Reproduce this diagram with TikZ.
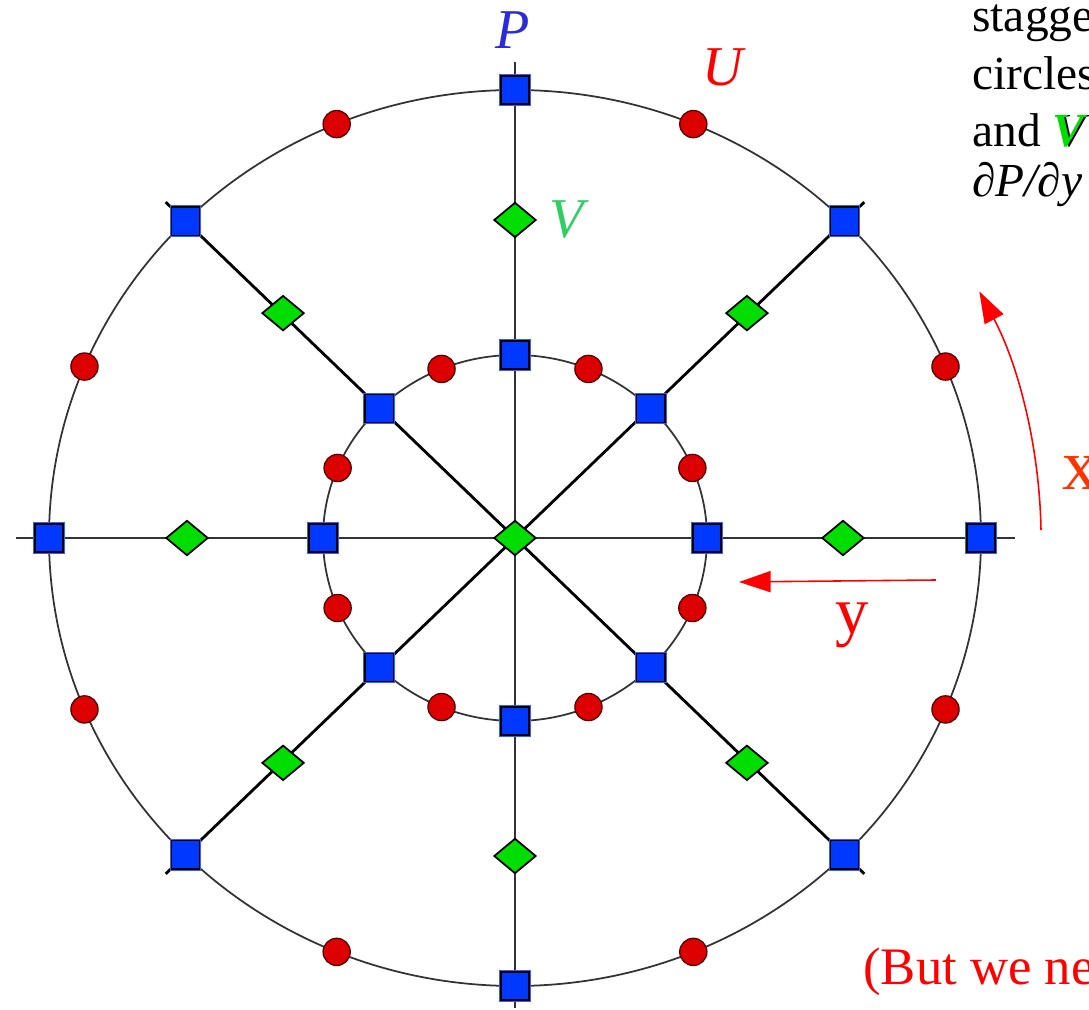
\documentclass[tikz,border=0pt]{standalone}
\usepackage{fontspec}
\setmainfont{Liberation Serif}
\usepackage{tikz}
\usetikzlibrary{positioning,arrows.meta,shapes.geometric}
\usepackage{xcolor}
\definecolor{pblue}{HTML}{0038FF}
\definecolor{ured}{HTML}{DD0000}
\definecolor{vgreen}{HTML}{00DD00}
\definecolor{labblue}{HTML}{2B2BD9}
\definecolor{labgreen}{HTML}{33CC66}
\definecolor{xorange}{HTML}{FF3300}
\definecolor{gridgray}{HTML}{333333}
\tikzset{
  pnode/.style={
    rectangle, draw=black, fill=pblue, minimum size=16pt,
    inner sep=0pt, line width=0.8pt,
    preaction={draw=pblue!80, line width=2pt}
  },
  unode/.style={
    circle, draw=black!70!red, fill=ured,
    minimum size=15.5pt, inner sep=0pt, line width=0.7pt
  },
  vnode/.style={
    diamond, draw=black, fill=vgreen, minimum width=24pt,
    minimum height=20pt, inner sep=0pt, line width=1pt
  },
  axis/.style={gridgray, line width=0.8pt},
  spoke/.style={black, line width=1.6pt},
  ring/.style={gridgray, line width=1pt},
  redarr/.style={
    -{Triangle[length=18pt,width=12pt]}, red, line width=0.9pt
  },
  varlabel/.style={font=\fontsize{32}{36}\selectfont\itshape},
  note/.style={
    font=\fontsize{27}{31}\selectfont, anchor=base west, inner sep=0pt
  }
}

\begin{document}
\begin{tikzpicture}[x=0.02cm, y=0.02cm]
\useasboundingbox (-515,-472) rectangle (574,538);
\clip (-515,-472) rectangle (574,538);

% rings
\draw[ring] (0,0) ellipse [x radius=466, y radius=448];
\draw[ring] (0,0) ellipse [x radius=192, y radius=183];

% axes and spokes
\coordinate (axW) at (-499,0);
\coordinate (axE) at (500,0);
\coordinate (axN) at (0,476);
\coordinate (axS) at (0,-470);
\foreach \a/\n in {45/1,135/2,225/3,315/4}
  \coordinate (sp\n) at ({494*cos(\a)},{475*sin(\a)});
\draw[axis] (axW) -- (axE);
\draw[axis] (axS) -- (axN);
\draw[spoke] (sp1) -- (sp3);
\draw[spoke] (sp2) -- (sp4);

% grid points
\foreach \k in {0,...,7}{
  \node[pnode] (po\k) at ({466*cos(45*\k)},{448*sin(45*\k)}) {};
  \node[pnode] (pi\k) at ({192*cos(45*\k)},{183*sin(45*\k)}) {};
  \node[vnode] (vm\k) at ({328*cos(45*\k)},{318*sin(45*\k)}) {};
  \node[unode] (uo\k) at ({466*cos(45*\k+22.5)},{448*sin(45*\k+22.5)}) {};
  \node[unode] (ui\k) at ({192*cos(45*\k+22.5)},{183*sin(45*\k+22.5)}) {};
}
\node[vnode] (v0) at (0,0) {};

% variable labels
\node[varlabel, labblue] (plab) at (-2,508) {P};
\node[varlabel, red] (ulab) at (208,471) {U};
\node[varlabel, labgreen] (vlab) at (52,318) {V};

% notes on the right
\node[note] (n1) at (457,506) {stagge};
\node[note] (n2) at (457,448) {circles};
\node[note] (n3) at (457,391) {and \rlap{\kern2pt\itshape V}\textcolor{vgreen}{\bfseries\itshape V}};
\node[note] (n4) at (457,341) {\itshape ∂P/∂y};
\node[note, red, font=\fontsize{30}{34}\selectfont] (n5) at (348,-447) {(But we ne};

% direction arrows
\coordinate (yfrom) at (421,-42);
\coordinate (yto) at (224,-44);
\draw[redarr] (yfrom) -- (yto);
\node[note, red, font=\fontsize{38}{42}\selectfont] (ylab) at (320,-96) {y};
\coordinate (xfrom) at (526,8);
\draw[redarr] (xfrom) arc[start angle=1, end angle=28, radius=528];
\node[note, xorange, font=\fontsize{41}{45}\selectfont] (xlab) at (547,48) {x};
\end{tikzpicture}
\end{document}
